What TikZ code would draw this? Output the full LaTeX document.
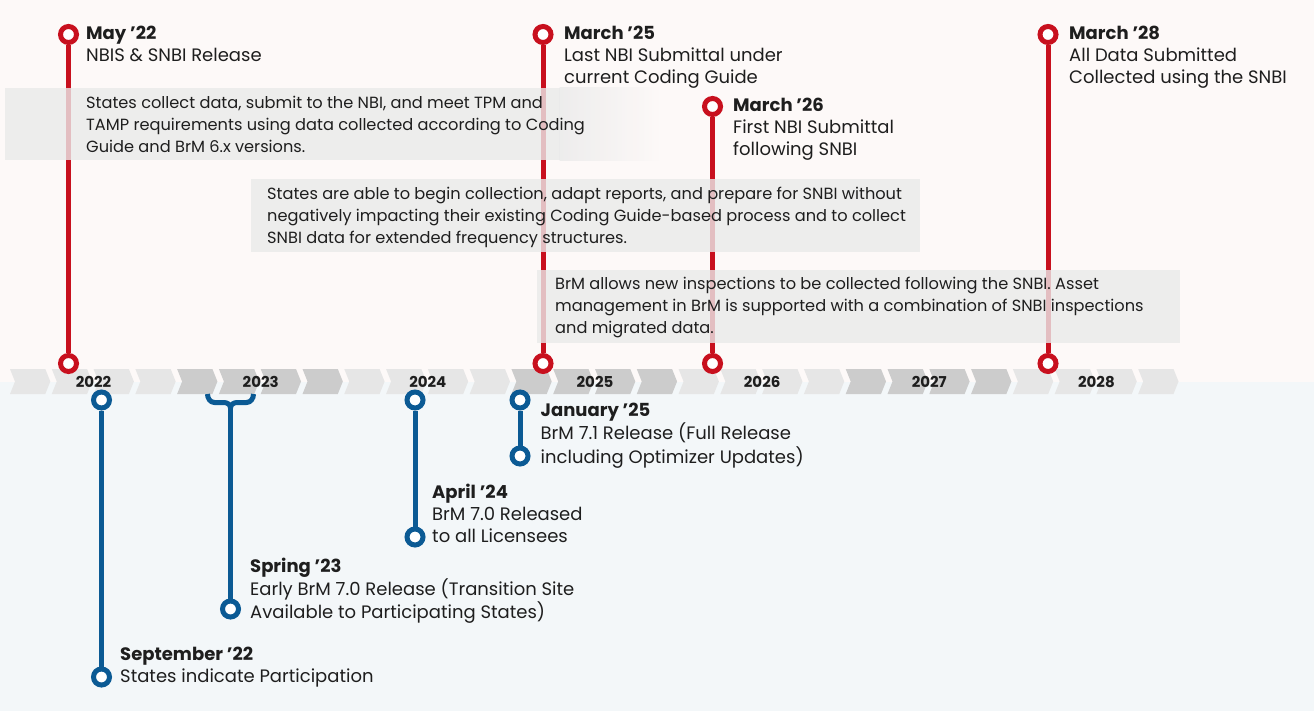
\documentclass[tikz,border=0pt]{standalone}
\usepackage{fontspec}
\setmainfont{Poppins}
\definecolor{bgtop}{HTML}{FDF9F8}
\definecolor{bgbot}{HTML}{F3F7F9}
\definecolor{tred}{HTML}{C8101E}
\definecolor{tblue}{HTML}{0B5A94}
\definecolor{boxgray}{HTML}{EAEAEA}
\definecolor{chlight}{HTML}{E6E6E6}
\definecolor{chdark}{HTML}{CCCCCC}
\definecolor{txt}{HTML}{1E1E1E}
\newcommand\bodyfont{\fontsize{18}{22}\selectfont}
\newcommand\boxfont{\fontsize{16.2}{22.2}\selectfont}
\newcommand\yearfont{\fontsize{15}{18}\selectfont\bfseries}
\newcommand\tlines[1]{\begin{tabular}[t]{@{}l@{}}#1\end{tabular}}
\tikzset{
  rdot/.style={circle, draw=tred, line width=5pt, fill=white, minimum size=16pt, inner sep=0pt},
  bdot/.style={circle, draw=tblue, line width=5pt, fill=white, minimum size=16pt, inner sep=0pt},
  rline/.style={draw=tred, line width=5pt},
  bline/.style={draw=tblue, line width=5pt, line join=round},
  boxfill/.style={fill=boxgray, fill opacity=0.8},
  lbl/.style={anchor=base west, inner sep=0pt, font=\bodyfont, text=txt},
  boxlbl/.style={anchor=base west, inner sep=0pt, font=\boxfont, text=txt},
  yearlbl/.style={inner sep=0pt, font=\yearfont, text=txt}
}
\begin{document}
\begin{tikzpicture}[x=1pt, y=-1pt]
\useasboundingbox (0,0) rectangle (1314,711);
% backgrounds
\fill[bgtop] (0,0) rectangle (1314,381.5);
\fill[bgbot] (0,381.5) rectangle (1314,711);
% chevrons
\foreach \i in {0,...,27}{
  \pgfmathsetmacro\xa{10+\i*41.786}
  \pgfmathtruncatemacro\yr{floor(\i/4)}
  \pgfmathtruncatemacro\odd{mod(\yr,2)}
  \ifnum\odd=1 \def\chc{chdark}\else\def\chc{chlight}\fi
  \fill[\chc] (\xa,369) -- (\xa+35.3,369) -- (\xa+40.3,381.5) -- (\xa+35.3,394) -- (\xa,394) -- (\xa+5,381.5) -- cycle;
}
\foreach \y [count=\k from 0] in {2022,2023,2024,2025,2026,2027,2028}{
  \node[yearlbl] (y\y) at ({10+167.14*(\k+0.5)},382) {\y};
}
% red markers
\node[rdot] (m22t) at (68.5,34.5) {};
\node[rdot] (m22b) at (68.5,363.5) {};
\node[rdot] (m25t) at (543,34.5) {};
\node[rdot] (m25b) at (543,363.5) {};
\node[rdot] (m26t) at (712.5,106.5) {};
\node[rdot] (m26b) at (712.5,363.5) {};
\node[rdot] (m28t) at (1048,34.5) {};
\node[rdot] (m28b) at (1048,363.5) {};
\draw[rline] (m22t) -- (m22b);
\draw[rline] (m25t) -- (m25b);
\draw[rline] (m26t) -- (m26b);
\draw[rline] (m28t) -- (m28b);
% blue markers
\node[bdot] (s22t) at (101.5,400) {};
\node[bdot] (s22b) at (101.5,677) {};
\node[bdot] (a24t) at (415,400) {};
\node[bdot] (a24b) at (415,537) {};
\node[bdot] (j25t) at (520,400) {};
\node[bdot] (j25b) at (520,456) {};
\node[bdot] (sp23b) at (230.5,609) {};
\draw[bline] (s22t) -- (s22b);
\draw[bline] (a24t) -- (a24b);
\draw[bline] (j25t) -- (j25b);
\coordinate (brace) at (230.5,408);
\draw[bline] (207.5,394) to[out=-90,in=180] (214.5,402.5) -- (224,402.5) to[out=0,in=90] (brace);
\draw[bline] (253.5,394) to[out=-90,in=0] (246.5,402.5) -- (237,402.5) to[out=180,in=90] (brace);
\draw[bline] (brace) -- (sp23b);
% grey boxes
\fill[boxfill] (5,88) rectangle (560,160.5);
\shade[left color=boxgray, right color=bgtop, fill opacity=0.8] (559.5,88) rectangle (662,160.5);
\fill[boxfill] (251,179) rectangle (920,252);
\fill[boxfill] (537,270) rectangle (1180,343);
% texts
\node[lbl] (t22) at (86,39.5) {\tlines{\textbf{May ’22}\\NBIS \& SNBI Release}};
\node[lbl] (t25) at (564,39.5) {\tlines{\textbf{March ’25}\\Last NBI Submittal under\\current Coding Guide}};
\node[lbl] (t26) at (733,111.5) {\tlines{\textbf{March ’26}\\First NBI Submittal\\following SNBI}};
\node[lbl] (t28) at (1069,39.5) {\tlines{\textbf{March ’28}\\All Data Submitted\\Collected using the SNBI}};
\node[boxlbl] (b1) at (86,108.5) {\tlines{States collect data, submit to the NBI, and meet TPM and\\TAMP requirements using data collected according to Coding\\Guide and BrM 6.x versions.}};
\node[boxlbl] (b2) at (267,199.3) {\tlines{States are able to begin collection, adapt reports, and prepare for SNBI without\\negatively impacting their existing Coding Guide-based process and to collect\\SNBI data for extended frequency structures.}};
\node[boxlbl] (b3) at (555,289.3) {\tlines{BrM allows new inspections to be collected following the SNBI. Asset\\management in BrM is supported with a combination of SNBI inspections\\and migrated data.}};
\node[lbl] (tj25) at (540.5,416.5) {\tlines{\textbf{January ’25}\\BrM 7.1 Release (Full Release\\including Optimizer Updates)}};
\node[lbl] (ta24) at (432,498) {\tlines{\textbf{April ’24}\\BrM 7.0 Released\\to all Licensees}};
\node[lbl] (tsp23) at (250,572) {\tlines{\textbf{Spring ’23}\\Early BrM 7.0 Release (Transition Site\\Available to Participating States)}};
\node[lbl] (ts22) at (120,660) {\tlines{\textbf{September ’22}\\States indicate Participation}};
\end{tikzpicture}
\end{document}
